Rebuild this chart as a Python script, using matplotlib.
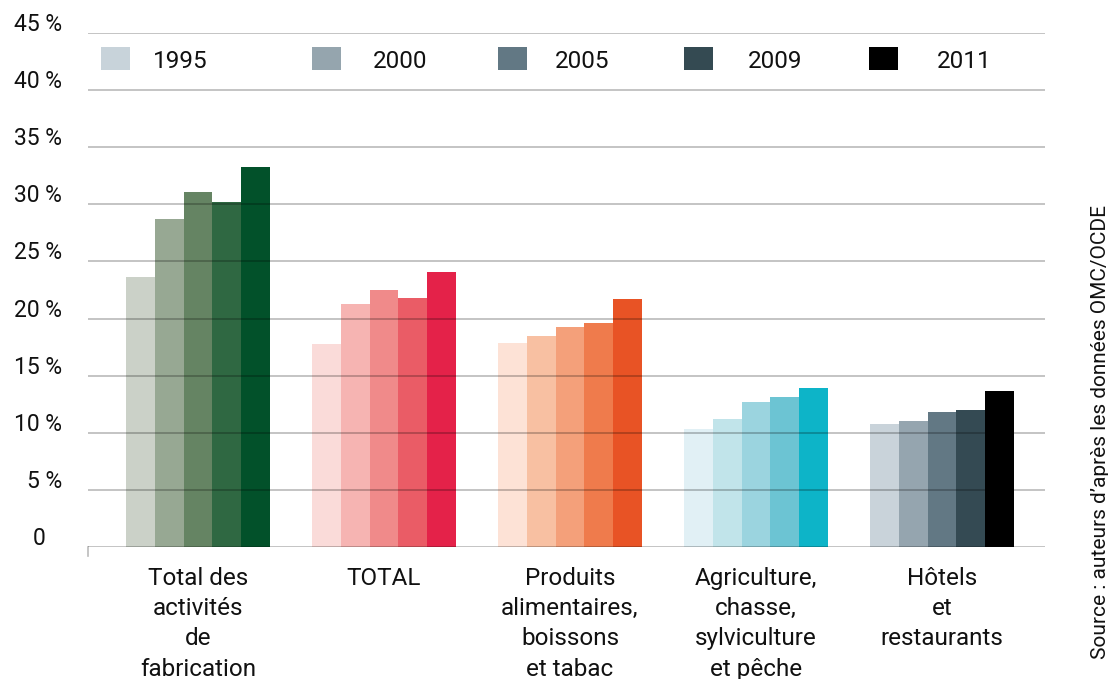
import matplotlib
matplotlib.use("Agg")
import matplotlib.pyplot as plt
from matplotlib.patches import Rectangle
import matplotlib.transforms as mtransforms

plt.rcParams['font.family'] = ['Roboto', 'DejaVu Sans']

categories = ["Total des\nactivités\nde\nfabrication", "TOTAL",
              "Produits\nalimentaires,\nboissons\net tabac",
              "Agriculture,\nchasse,\nsylviculture\net pêche",
              "Hôtels\net\nrestaurants"]
years = ["1995", "2000", "2005", "2009", "2011"]
values = [
    [23.6, 28.7, 31.1, 30.2, 33.3],
    [17.8, 21.3, 22.5, 21.8, 24.1],
    [17.9, 18.5, 19.3, 19.6, 21.7],
    [10.3, 11.2, 12.7, 13.1, 13.9],
    [10.8, 11.0, 11.8, 12.0, 13.7],
]
colors = [
    ["#cbd1c8", "#97a893", "#658463", "#2f6842", "#02512a"],
    ["#fadbd9", "#f6b4b2", "#f08a8a", "#ea5c66", "#e42249"],
    ["#fde2d6", "#f8c0a2", "#f4a07a", "#ef7b4c", "#e85325"],
    ["#e1f0f5", "#c1e4ea", "#9bd4df", "#6cc4d3", "#0db4c8"],
    ["#c9d3da", "#95a5af", "#627884", "#344a53", "#000000"],
]
legend_colors = ["#c8d3da", "#95a5ae", "#627884", "#344a52", "#000000"]
yticks = [0, 5, 10, 15, 20, 25, 30, 35, 40, 45]
ytick_labels = ["0", "5 %", "10 %", "15 %", "20 %", "25 %", "30 %", "35 %", "40 %", "45 %"]
source = "Source : auteurs d’après les données OMC/OCDE"

fig = plt.figure(figsize=(11.08, 6.79), dpi=100)
ax = fig.add_axes([88/1108, (679-547)/679, (1045-88)/1108, (547-33)/679])

bw = 0.154
for gi, (vals, cols) in enumerate(zip(values, colors)):
    for j, (v, c) in enumerate(zip(vals, cols)):
        x = gi + (j - 2) * bw
        ax.bar(x, v, width=bw, color=c, linewidth=0, zorder=1)

x0 = -0.591
ax.set_xlim(x0, 4.554)
ax.set_ylim(0, 45)
for t in yticks:
    ax.axhline(t, color="black", alpha=0.25, linewidth=1.3, zorder=3)

for s in ax.spines.values():
    s.set_visible(False)
ax.set_xticks([])
ax.set_yticks([])

def px(p):
    return (p - 88) / 186 + x0

# y tick labels
offset = mtransforms.offset_copy(ax.transData, fig=fig, x=0, y=2, units='dots')
for t, lab in zip(yticks, ytick_labels):
    if lab == "0":
        ax.text(px(39), t, lab, ha='center', va='baseline', fontsize=16.5,
                color="#111111", transform=offset, clip_on=False)
    else:
        ax.text(px(62), t, lab, ha='right', va='baseline', fontsize=16.5,
                color="#111111", transform=offset, clip_on=False)

# small tick at left of baseline
ax.plot([x0, x0], [0, -0.8], color="#bbbbbb", linewidth=1.2, clip_on=False)

# category labels
for gi, cat in enumerate(categories):
    ax.text(gi, -1.75, cat, ha='center', va='top', fontsize=17.5, color="#111111",
            linespacing=1.4, clip_on=False)

# legend
patch_left = [px(101), px(312), px(498), px(684), px(869)]
text_left = [px(153), px(373), px(555), px(748), px(937)]
for pl, tl, yr, c in zip(patch_left, text_left, years, legend_colors):
    ax.add_patch(Rectangle((pl, 41.75), 29 / 186, 2.0, color=c, linewidth=0,
                           clip_on=False, zorder=4))
    ax.text(tl, 41.9, yr, ha='left', va='baseline', fontsize=17.5, color="#111111")

fig.text(1100/1108, 1 - 432/679, source, rotation=90, ha='center', va='center',
         fontsize=15, color="#111111")

fig.savefig("out.png", dpi=100)
